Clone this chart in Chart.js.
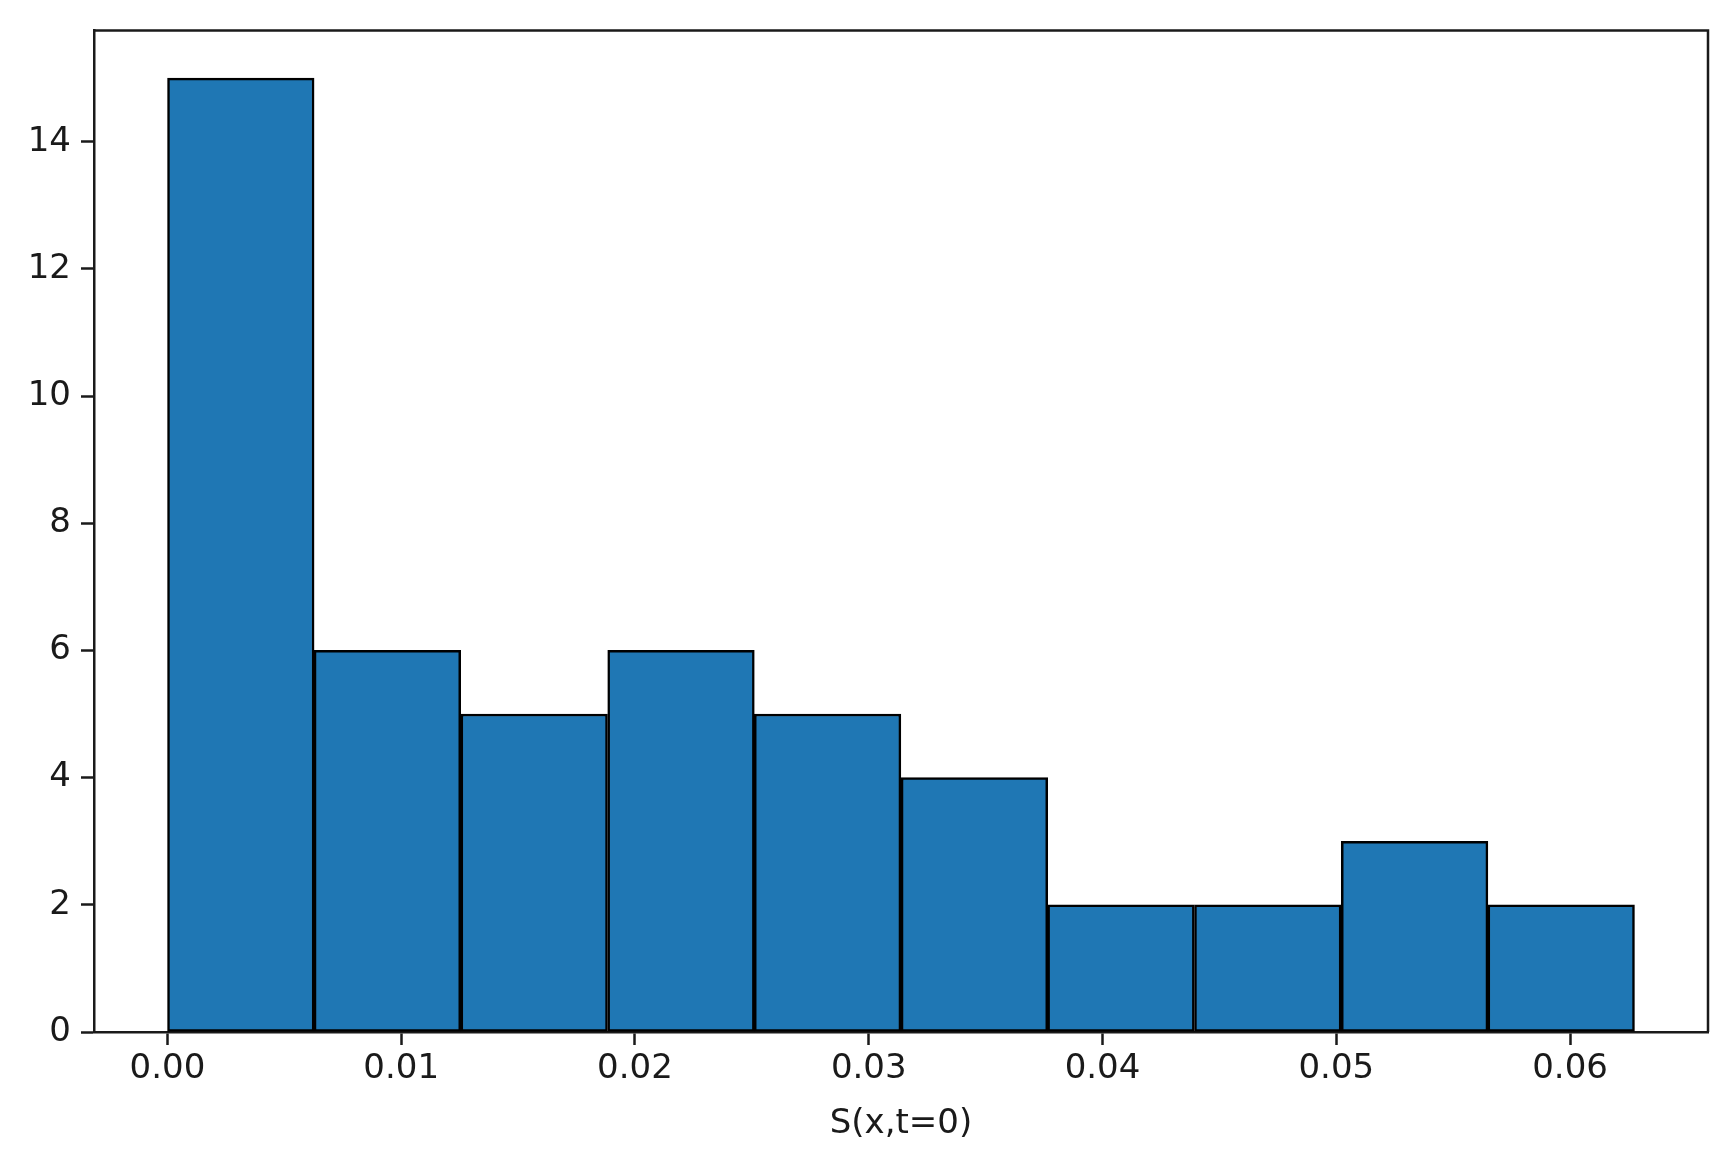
<!DOCTYPE html>
<html>
<head>
<meta charset="utf-8">
<title>S(x,t=0) histogram</title>
<script src="https://cdn.jsdelivr.net/npm/chart.js@4.4.1/dist/chart.umd.min.js"></script>
<style>
  html, body { margin: 0; padding: 0; background: #fff; }
  #wrap { width: 1734px; height: 1161px; }
</style>
</head>
<body>
<div id="wrap"><canvas id="histCanvas" width="1734" height="1161"></canvas></div>
<script>
// Histogram bins (centres) and counts
const binCenters = [0.00314, 0.00941, 0.01569, 0.02197, 0.02824, 0.03452, 0.04079, 0.04707, 0.05335, 0.05962];
const counts = [15, 6, 5, 6, 5, 4, 2, 2, 3, 2];

// axis setup
const xTicks = [0.00, 0.01, 0.02, 0.03, 0.04, 0.05, 0.06];
const yTicks = [0, 2, 4, 6, 8, 10, 12, 14];
const xLabel = "S(x,t=0)";

const fontFamily = "'DejaVu Sans', sans-serif";
const fontSize = 34;
const lineW = 2.5;

// matplotlib style box: draw the top and right spines too
const frameBox = {
  id: "frameBox",
  afterDraw(chart) {
    const { ctx, chartArea } = chart;
    ctx.save();
    ctx.strokeStyle = "#1a1a1a";
    ctx.lineWidth = lineW;
    ctx.beginPath();
    ctx.moveTo(chartArea.left, chartArea.top);
    ctx.lineTo(chartArea.right, chartArea.top);
    ctx.lineTo(chartArea.right, chartArea.bottom);
    ctx.stroke();
    ctx.restore();
  },
};

const data = {
  datasets: [
    {
      label: "counts",
      data: binCenters.map((c, i) => ({ x: c, y: counts[i] })),
      backgroundColor: "#1f77b4",
      borderColor: "#000",
      borderWidth: lineW,
      borderSkipped: false,
      barPercentage: 1.0,
      categoryPercentage: 1.0,
    },
  ],
};

const config = {
  type: "bar",
  data: data,
  plugins: [frameBox],
  options: {
    responsive: false,
    animation: false,
    devicePixelRatio: 1,
    layout: {
      padding: { top: 30, right: 26, bottom: 0, left: 0 },
    },
    plugins: {
      legend: { display: false },
      tooltip: { enabled: false },
    },
    scales: {
      x: {
        type: "linear",
        min: -0.00314,
        max: 0.0659,
        offset: false,
        afterFit: (scale) => { scale.height = 129; },
        afterBuildTicks: (scale) => {
          scale.ticks = xTicks.map((v) => ({ value: v }));
        },
        grid: {
          offset: false,
          drawOnChartArea: false,
          drawTicks: true,
          tickLength: 13,
          tickColor: "#1a1a1a",
          tickWidth: lineW,
        },
        border: { display: true, color: "#1a1a1a", width: lineW },
        ticks: {
          padding: 4,
          color: "#1a1a1a",
          font: { family: fontFamily, size: fontSize },
          callback: (value) => Number(value).toFixed(2),
        },
        title: {
          display: true,
          text: xLabel,
          color: "#1a1a1a",
          font: { family: fontFamily, size: fontSize },
          padding: { top: 0, bottom: 16 },
        },
      },
      y: {
        type: "linear",
        min: 0,
        max: 15.75,
        afterFit: (scale) => { scale.width = 94; },
        afterBuildTicks: (scale) => {
          scale.ticks = yTicks.map((v) => ({ value: v }));
        },
        grid: {
          drawOnChartArea: false,
          drawTicks: true,
          tickLength: 13,
          tickColor: "#1a1a1a",
          tickWidth: lineW,
        },
        border: { display: true, color: "#1a1a1a", width: lineW },
        ticks: {
          padding: 10,
          color: "#1a1a1a",
          font: { family: fontFamily, size: fontSize },
        },
      },
    },
  },
};

const canvas = document.getElementById("histCanvas");
const histChart = new Chart(canvas, config);
</script>
</body>
</html>
